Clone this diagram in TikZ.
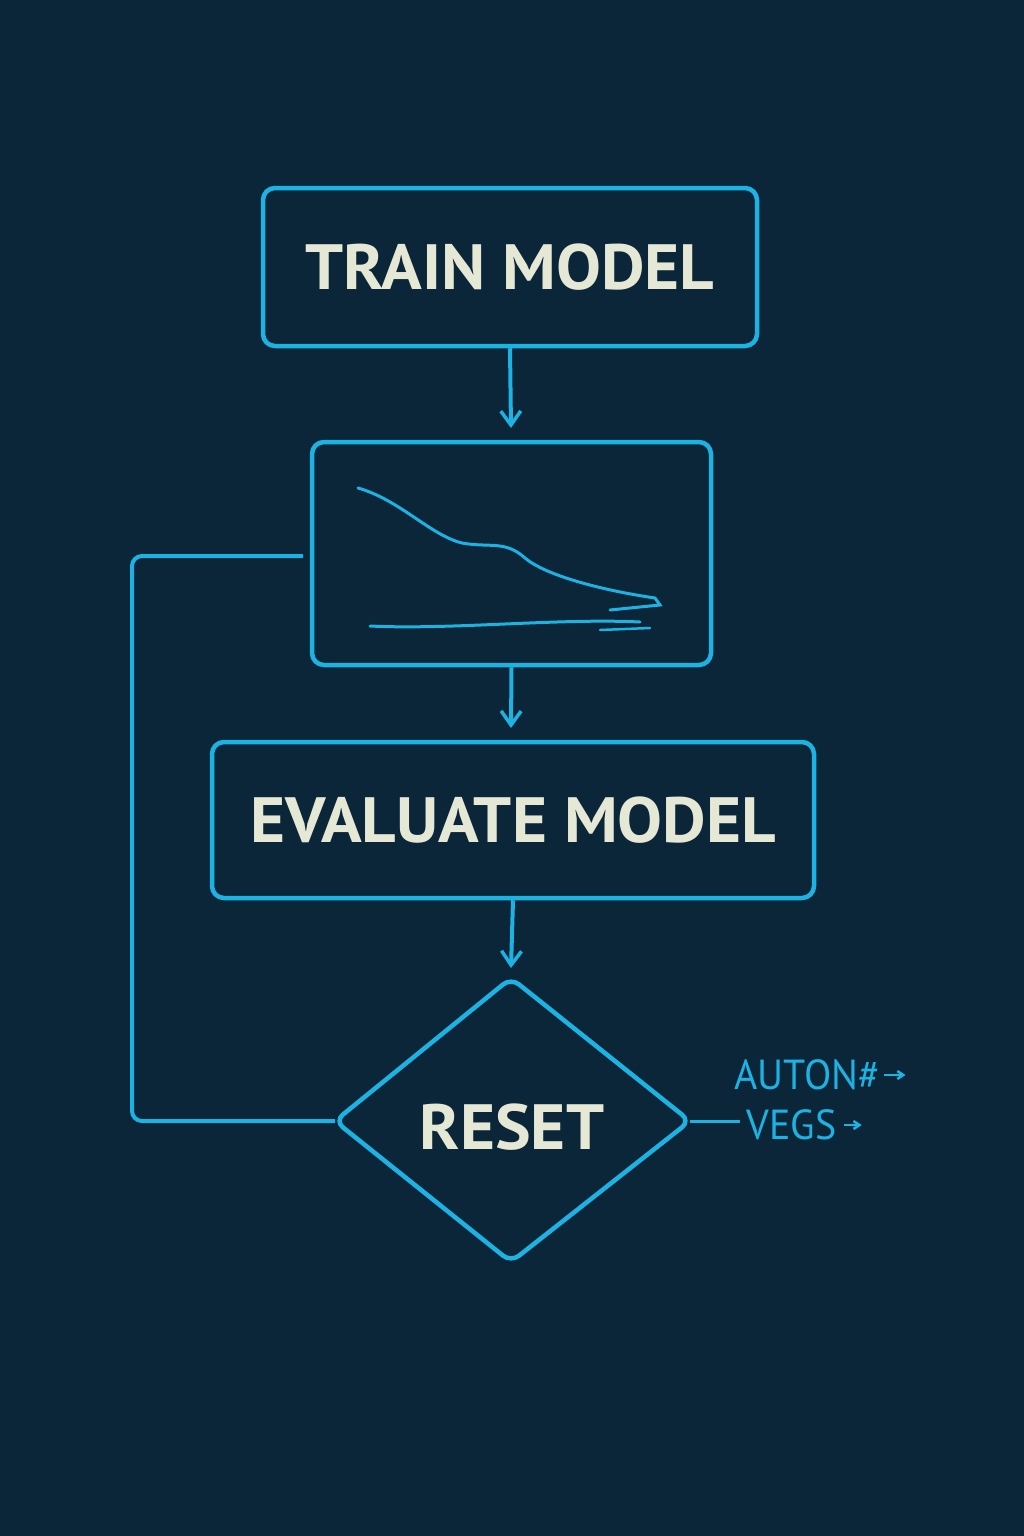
\documentclass[tikz,border=0pt]{standalone}
\usepackage{fontspec}
\setmainfont{PT Sans}
\usetikzlibrary{arrows.meta}
\definecolor{bg}{HTML}{0B2539}
\definecolor{cy}{HTML}{1CB2E2}
\definecolor{txt}{HTML}{E6E8D6}
\begin{document}
\begin{tikzpicture}[x=1pt,y=-1pt,
  box/.style={draw=cy,line width=4.5pt,rounded corners=12pt,inner sep=0pt},
  lbl/.style={text=txt,font=\fontsize{64}{64}\selectfont\bfseries},
  con/.style={draw=cy,line width=4pt},
  arr/.style={con,-{Straight Barb[length=14pt,width=20pt,line width=3.5pt]}},
  small/.style={text=cy,font=\fontsize{42}{42}\selectfont}]
\fill[bg] (0,0) rectangle (1024,1536);
\useasboundingbox (0,0) rectangle (1024,1536);
\node[box,minimum width=494pt,minimum height=158pt] (train) at (510,267) {};
\node[lbl] at (train) {\scalebox{1.05}[1]{TRAIN MODEL}};
\node[box,minimum width=399pt,minimum height=223pt] (chart) at (511.5,553.5) {};
\node[box,minimum width=602pt,minimum height=156pt] (eval) at (513,820) {};
\node[lbl] at (eval) {\scalebox{1.05}[1]{EVALUATE MODEL}};
\coordinate (dt) at (511,978);
\coordinate (dl) at (335,1121);
\coordinate (dr) at (690,1121);
\coordinate (db) at (511,1262);
\draw[con,line width=4.5pt,rounded corners=10pt] (dt) -- (dr) -- (db) -- (dl) -- cycle;
\node[lbl] (reset) at (512,1127) {\scalebox{1.05}[1]{RESET}};
\draw[arr] (train.south) -- (511,428);
\draw[arr] (chart.south) -- (511,728);
\draw[arr] (eval.south) -- (511,968);
\coordinate (l1) at (132,1121);
\coordinate (l2) at (132,556);
\coordinate (l3) at (303,556);
\draw[con,rounded corners=10pt] (dl) -- (l1) -- (l2) -- (l3);
% chart curves
\draw[cy,line width=3pt,line cap=round] (358,488) .. controls (400,500) and (430,535) .. (462,543)
  .. controls (490,548) and (505,540) .. (525,558) .. controls (545,575) and (600,590) .. (655,598)
  -- (660,605) -- (610,610);
\draw[cy,line width=3pt,line cap=round] (370,626) .. controls (450,630) and (560,618) .. (640,622);
\draw[cy,line width=2.5pt,line cap=round] (600,630) -- (650,628);
% right annotation
\coordinate (r1) at (740,1121);
\draw[con,line width=3pt] (dr) -- (r1);
\node[small,anchor=west] (a1) at (731,1075) {\scalebox{0.95}[1]{AUTON\#}};
\draw[cy,line width=2.5pt,-{Straight Barb[length=6pt,width=8pt]}] (a1.east) -- ++(22,0);
\node[small,anchor=west] (a2) at (743,1125) {\scalebox{0.95}[1]{VEGS}};
\draw[cy,line width=2.5pt,-{Straight Barb[length=6pt,width=8pt]}] (a2.east) ++(4,0) -- ++(18,0);
\end{tikzpicture}
\end{document}
